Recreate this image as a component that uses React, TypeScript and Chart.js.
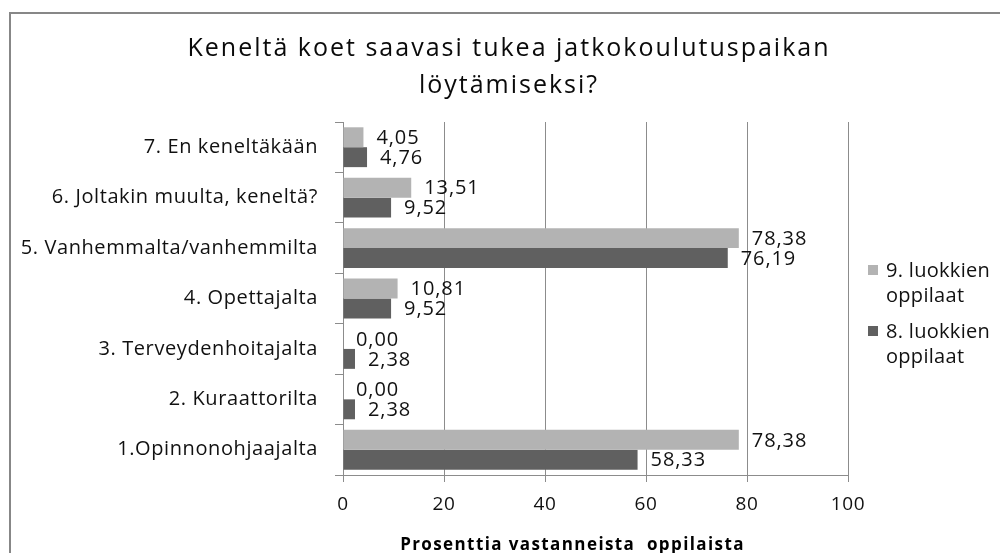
import React, { useEffect, useRef } from 'react';
import { Chart, registerables } from 'chart.js';

Chart.register(...registerables);

const titleLines = ['Keneltä koet saavasi tukea jatkokoulutuspaikan', 'löytämiseksi?'];
const categories = [
  '7. En keneltäkään',
  '6. Joltakin muulta, keneltä?',
  '5. Vanhemmalta/vanhemmilta',
  '4. Opettajalta',
  '3. Terveydenhoitajalta',
  '2. Kuraattorilta',
  '1.Opinnonohjaajalta',
];
const grade9Values = [4.05, 13.51, 78.38, 10.81, 0.0, 0.0, 78.38];
const grade8Values = [4.76, 9.52, 76.19, 9.52, 2.38, 2.38, 58.33];
const grade9Label = ['9. luokkien', 'oppilaat'];
const grade8Label = ['8. luokkien', 'oppilaat'];
const xMin = 0;
const xMax = 100;
const xStep = 20;
const xAxisTitle = 'Prosenttia vastanneista  oppilaista';

const FONT = "'Open Sans', sans-serif";
const LIGHT = '#b3b3b3';
const DARK = '#606060';
const GRID = '#8c8c8c';
const TEXT = '#111111';

const overlayPlugin = {
  id: 'overlay',
  beforeDraw(chart: any) {
    chart.ctx.letterSpacing = '0.6px';
  },
  afterDraw(chart: any) {
    const ctx = chart.ctx as CanvasRenderingContext2D;
    const area = chart.chartArea;
    ctx.save();

    // data labels
    ctx.font = `20px ${FONT}`;
    (ctx as any).letterSpacing = '0.9px';
    ctx.fillStyle = TEXT;
    ctx.textAlign = 'left';
    ctx.textBaseline = 'middle';
    chart.data.datasets.forEach((ds: any, di: number) => {
      const meta = chart.getDatasetMeta(di);
      meta.data.forEach((bar: any, i: number) => {
        const v = ds.data[i] as number;
        ctx.fillText(v.toFixed(2).replace('.', ','), bar.x + 13, bar.y + 1);
      });
    });

    // chart title
    ctx.font = `25px ${FONT}`;
    (ctx as any).letterSpacing = '2px';
    ctx.fillStyle = '#0a0a0a';
    ctx.textAlign = 'center';
    ctx.textBaseline = 'alphabetic';
    const cx = chart.width / 2 + 9;
    titleLines.forEach((line, i) => {
      ctx.fillText(line, cx, 56 + i * 37);
    });

    // legend
    ctx.font = `20px ${FONT}`;
    (ctx as any).letterSpacing = '0.3px';
    ctx.textAlign = 'left';
    ctx.textBaseline = 'alphabetic';
    let y = area.top + 155;
    chart.data.datasets.forEach((ds: any) => {
      const lines: string[] = ds.legendLines;
      ctx.fillStyle = ds.backgroundColor;
      ctx.fillRect(area.right + 20, y - 12, 10, 10);
      ctx.fillStyle = TEXT;
      lines.forEach((ln, li) => {
        ctx.fillText(ln, area.right + 38, y + li * 25);
      });
      y += lines.length * 25 + 11;
    });

    // x-axis title
    ctx.font = `bold 17px ${FONT}`;
    (ctx as any).letterSpacing = '1.4px';
    ctx.fillStyle = '#000000';
    ctx.textAlign = 'center';
    ctx.textBaseline = 'alphabetic';
    ctx.fillText(xAxisTitle, (area.left + area.right) / 2 - 23, chart.height - 3);

    ctx.restore();
  },
};

export default function App() {
  const ref = useRef<HTMLCanvasElement>(null);

  useEffect(() => {
    if (!ref.current) return;
    const chart = new Chart(ref.current, {
      type: 'bar',
      data: {
        labels: categories,
        datasets: [
          {
            label: grade9Label.join(' '),
            legendLines: grade9Label,
            data: grade9Values,
            backgroundColor: LIGHT,
            borderWidth: 0,
            categoryPercentage: 0.79,
            barPercentage: 1,
          } as any,
          {
            label: grade8Label.join(' '),
            legendLines: grade8Label,
            data: grade8Values,
            backgroundColor: DARK,
            borderWidth: 0,
            categoryPercentage: 0.79,
            barPercentage: 1,
          } as any,
        ],
      },
      options: {
        indexAxis: 'y',
        responsive: false,
        maintainAspectRatio: false,
        devicePixelRatio: 1,
        animation: false,
        events: [],
        layout: { padding: { left: 12, top: 122, right: 152, bottom: 0 } },
        plugins: {
          legend: { display: false },
          title: { display: false },
          tooltip: { enabled: false },
        },
        scales: {
          x: {
            min: xMin,
            max: xMax,
            afterFit: (scale: any) => {
              scale.height = 78;
            },
            ticks: {
              stepSize: xStep,
              color: TEXT,
              font: { family: FONT, size: 19 },
              padding: 11,
            },
            grid: {
              color: GRID,
              lineWidth: 1,
              tickLength: 7,
              tickColor: GRID,
            },
            border: { color: GRID, width: 1 },
          },
          y: {
            afterFit: (scale: any) => {
              scale.width = 331;
            },
            ticks: {
              color: TEXT,
              font: { family: FONT, size: 20 },
              padding: 17,
            },
            grid: {
              drawOnChartArea: false,
              tickLength: 8,
              tickColor: GRID,
              color: GRID,
            },
            border: { color: GRID, width: 1 },
          },
        },
      },
      plugins: [overlayPlugin],
    } as any);
    return () => chart.destroy();
  }, []);

  return (
    <div
      style={{
        position: 'fixed',
        left: 0,
        top: 0,
        width: 1000,
        height: 553,
        overflow: 'hidden',
        background: '#ffffff',
      }}
    >
      <div
        style={{
          position: 'absolute',
          left: 9,
          top: 12,
          width: 1100,
          height: 700,
          border: '2px solid #878787',
          boxSizing: 'border-box',
        }}
      />
      <canvas
        ref={ref}
        width={1000}
        height={553}
        style={{ position: 'absolute', left: 0, top: 0, width: 1000, height: 553 }}
      />
    </div>
  );
}
